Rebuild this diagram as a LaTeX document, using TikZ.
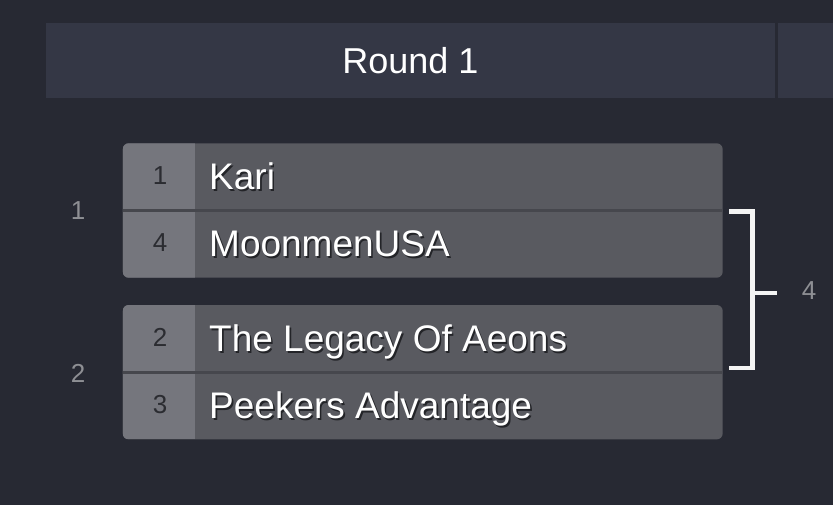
\documentclass[tikz,border=0pt]{standalone}
\usepackage{fontspec}
\setmainfont{Liberation Sans}
\definecolor{bg}{HTML}{272933}
\definecolor{headbg}{HTML}{343745}
\definecolor{seedbg}{HTML}{75767D}
\definecolor{namebg}{HTML}{595A60}
\definecolor{rowline}{HTML}{46474D}
\definecolor{seedfg}{HTML}{2B2C31}
\definecolor{labelfg}{HTML}{8E8F94}
\definecolor{shadowfg}{HTML}{232428}
\definecolor{bracketfg}{HTML}{F4F4F4}
\newcommand{\shadowed}[1]{\rlap{\kern1.6pt\raisebox{-2pt}{\textcolor{shadowfg}{#1}}}#1}

\begin{document}
\begin{tikzpicture}[x=1pt, y=-1pt,
	header/.style={fill=headbg, minimum width=729pt, minimum height=75pt, inner sep=0pt, text=white, font=\fontsize{36}{40}\selectfont},
	match/.style={fill=namebg, rounded corners=6pt, minimum width=600pt, minimum height=134.4pt, inner sep=0pt,
		path picture={
			\fill[seedbg, sharp corners] (path picture bounding box.north west) rectangle ([xshift=72.3pt]path picture bounding box.south west);
			\draw[rowline, line width=3pt] (path picture bounding box.west) -- (path picture bounding box.east);
		}},
	seed/.style={inner sep=0pt, text=seedfg, font=\fontsize{26}{30}\selectfont},
	team/.style={anchor=base west, inner sep=0pt, text=white, font=\fontsize{37}{40}\selectfont},
	side/.style={inner sep=0pt, text=labelfg, font=\fontsize{26}{30}\selectfont},
	bracket/.style={draw=bracketfg, line width=4.7pt, line join=miter}]
	\fill[bg] (0,0) rectangle (833,505);
	\useasboundingbox (0,0) rectangle (833,505);
	
	\node[header] (r1) at (410.5,60.2) {Round 1};
	\node[header, minimum width=82pt] (r2) at (819,60.2) {};
	
	\node[match] (m1) at (422.7,210.5) {};
	\node[match] (m2) at (422.7,372.2) {};
	
	\node[side] (n1) at (78,211) {1};
	\node[side] (n2) at (78,373) {2};
	
	\node[seed] (s1) at (160,176) {1};
	\node[seed] (s2) at (160,243) {4};
	\node[seed] (s3) at (160,337.5) {2};
	\node[seed] (s4) at (160,404.5) {3};
	
	\node[team] (t1) at (209,189.5) {\shadowed{Kari}};
	\node[team] (t2) at (209,256.5) {\shadowed{MoonmenUSA}};
	\node[team] (t3) at (209,351) {\shadowed{The Legacy Of Aeons}};
	\node[team] (t4) at (209,418) {\shadowed{Peekers Advantage}};
	
	\coordinate (bt) at (729,211.7);
	\coordinate (bb) at (729,368);
	\coordinate (bm) at (752.3,293);
	\coordinate (bo) at (777,293);
	\draw[bracket] (bt) -| (bm) |- (bb);
	\draw[bracket] (bm) -- (bo);
	\node[side] (w) at (809,291) {4};
	
\end{tikzpicture}
\end{document}
